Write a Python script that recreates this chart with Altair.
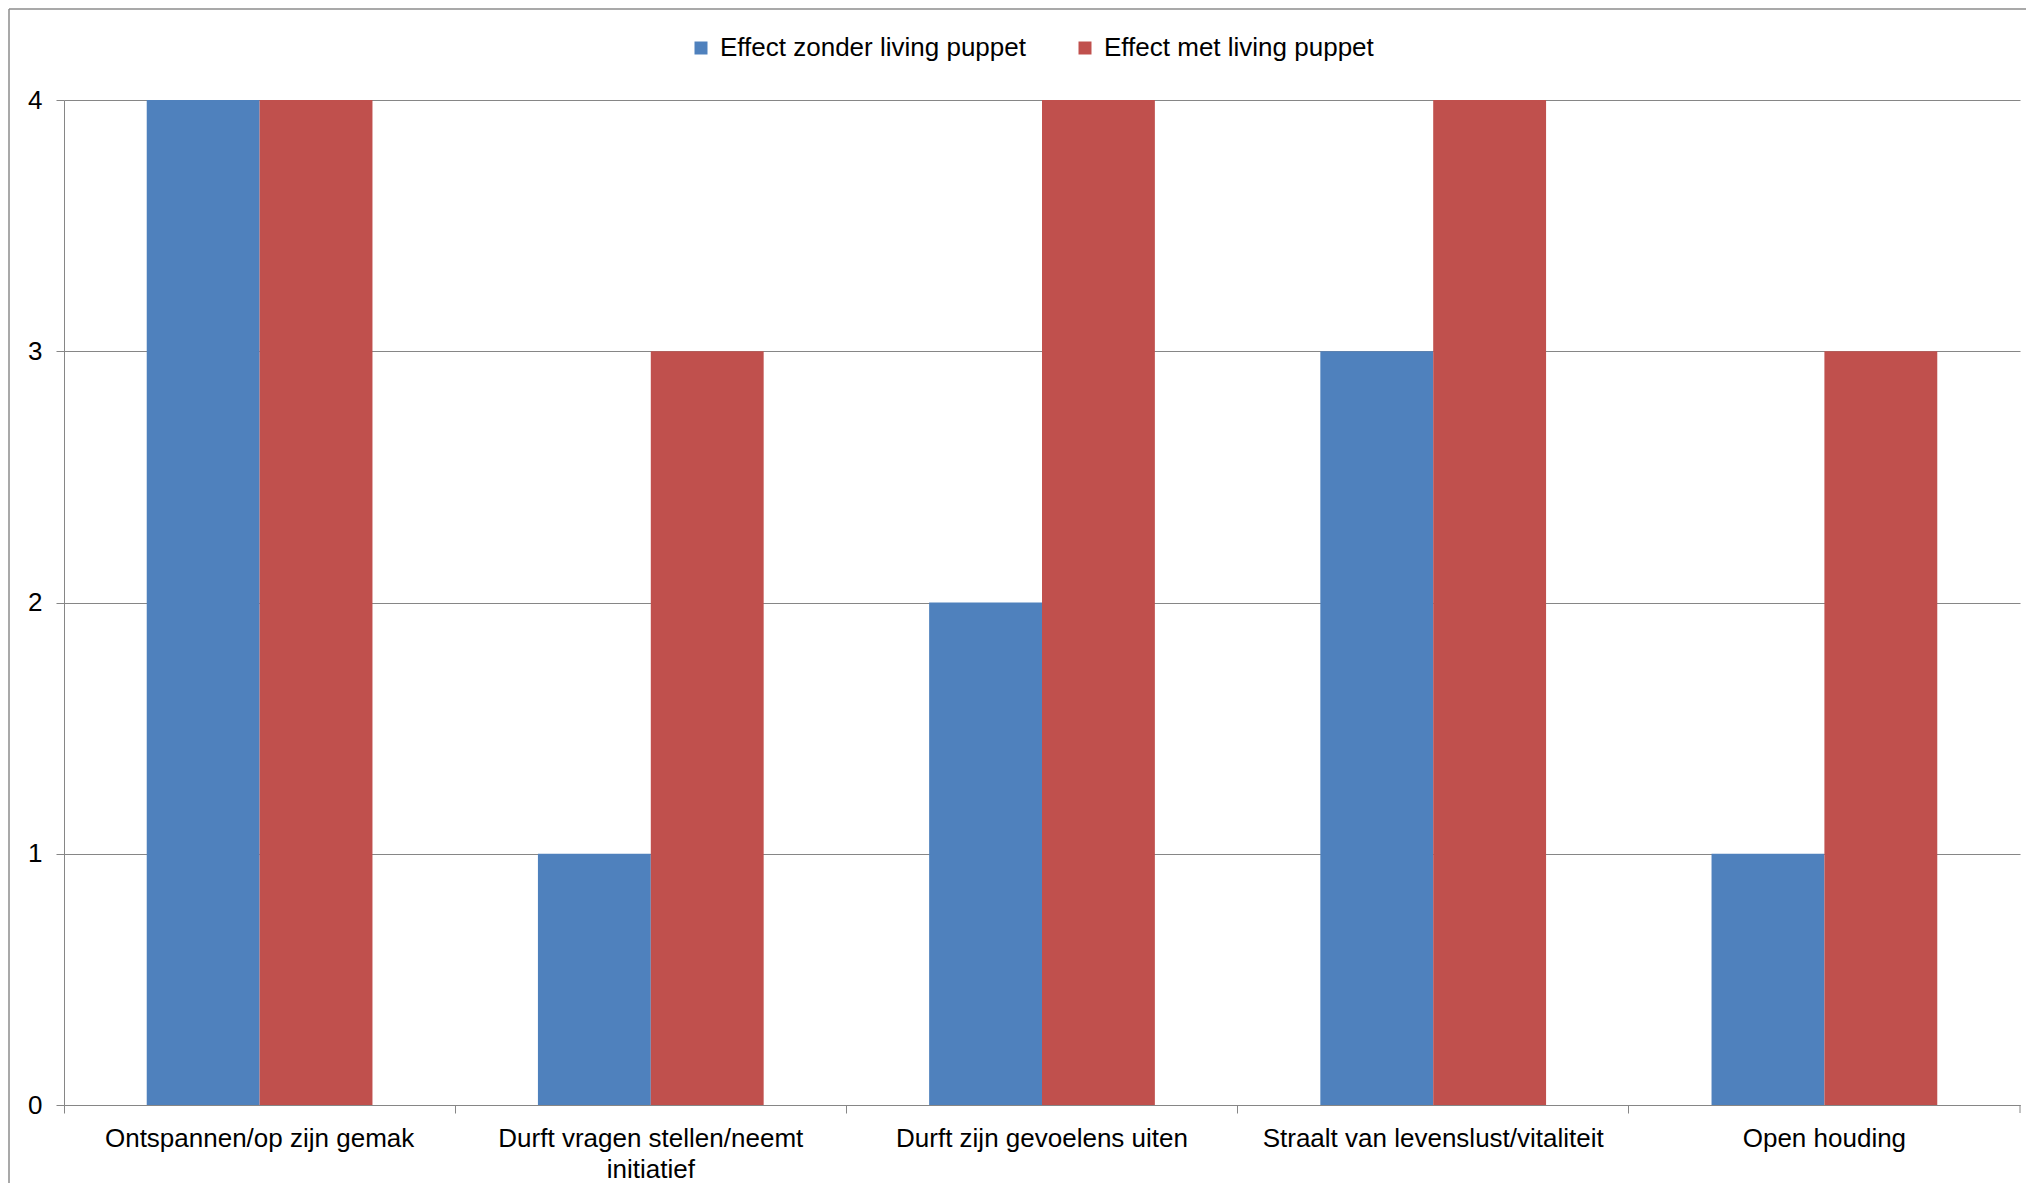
import altair as alt
import pandas as pd

categories = [
    "Ontspannen/op zijn gemak",
    "Durft vragen stellen/neemt initiatief",
    "Durft zijn gevoelens uiten",
    "Straalt van levenslust/vitaliteit",
    "Open houding",
]
series = ["Effect zonder living puppet", "Effect met living puppet"]
zonder = [4, 1, 2, 3, 1]
met = [4, 3, 4, 4, 3]
colors = ["#4F81BD", "#C0504D"]
y_ticks = [0, 1, 2, 3, 4]

rows = []
for c, a, b in zip(categories, zonder, met):
    rows.append({"cat": c, "series": series[0], "value": a})
    rows.append({"cat": c, "series": series[1], "value": b})
df = pd.DataFrame(rows)

W, H = 1956, 1005
FONT = "Liberation Sans"
GRAY = "#868686"

label_expr = ("datum.label == 'Durft vragen stellen/neemt initiatief' ? "
              "['Durft vragen stellen/neemt', 'initiatief'] : datum.label")

bars = alt.Chart(df).mark_bar().encode(
    x=alt.X("cat:N", sort=categories,
            scale=alt.Scale(paddingInner=0, paddingOuter=0),
            axis=alt.Axis(title=None, labelAngle=0, bandPosition=0,
                          grid=False, tickSize=8, tickColor=GRAY, domainColor=GRAY,
                          labelFont=FONT, labelFontSize=26, labelColor="black",
                          labelExpr=label_expr, labelLineHeight=31, labelPadding=12,
                          labelLimit=600, labelBaseline="top")),
    xOffset=alt.XOffset("series:N", sort=series,
                        scale=alt.Scale(paddingOuter=0.733, paddingInner=0)),
    y=alt.Y("value:Q", scale=alt.Scale(domain=[0, 4], nice=False),
            axis=alt.Axis(title=None, values=y_ticks, format="d", tickSize=8,
                          tickColor=GRAY, domainColor=GRAY, gridColor=GRAY,
                          labelFont=FONT, labelFontSize=26, labelColor="black",
                          labelPadding=14)),
    color=alt.Color("series:N", sort=series,
                    scale=alt.Scale(domain=series, range=colors),
                    legend=alt.Legend(orient="none", legendX=624, legendY=-65,
                                      direction="horizontal", title=None,
                                      symbolType="square", symbolSize=169,
                                      symbolStrokeWidth=0, labelFont=FONT,
                                      labelFontSize=26, labelColor="black",
                                      labelOffset=6, columnPadding=46,
                                      labelLimit=600)),
)

one = pd.DataFrame({"a": [0]})
frame_left = alt.Chart(one).mark_rule(color="#8c8c8c", strokeWidth=1.5).encode(
    x=alt.value(-55), y=alt.value(-91), y2=alt.value(H + 78))
frame_top = alt.Chart(one).mark_rule(color="#8c8c8c", strokeWidth=1.5).encode(
    x=alt.value(-55), x2=alt.value(W + 6), y=alt.value(-91))
end_tick = alt.Chart(one).mark_rule(color=GRAY, strokeWidth=1).encode(
    x=alt.value(W), y=alt.value(H), y2=alt.value(H + 8))

chart = alt.layer(bars, frame_left, frame_top, end_tick).properties(
    width=W, height=H,
    autosize=alt.AutoSizeParams(type="none"),
    padding={"left": 56, "top": 92, "right": 6, "bottom": 78},
).configure_view(stroke=None)

chart.save("out.html", embed_options={"renderer": "svg", "actions": False})
